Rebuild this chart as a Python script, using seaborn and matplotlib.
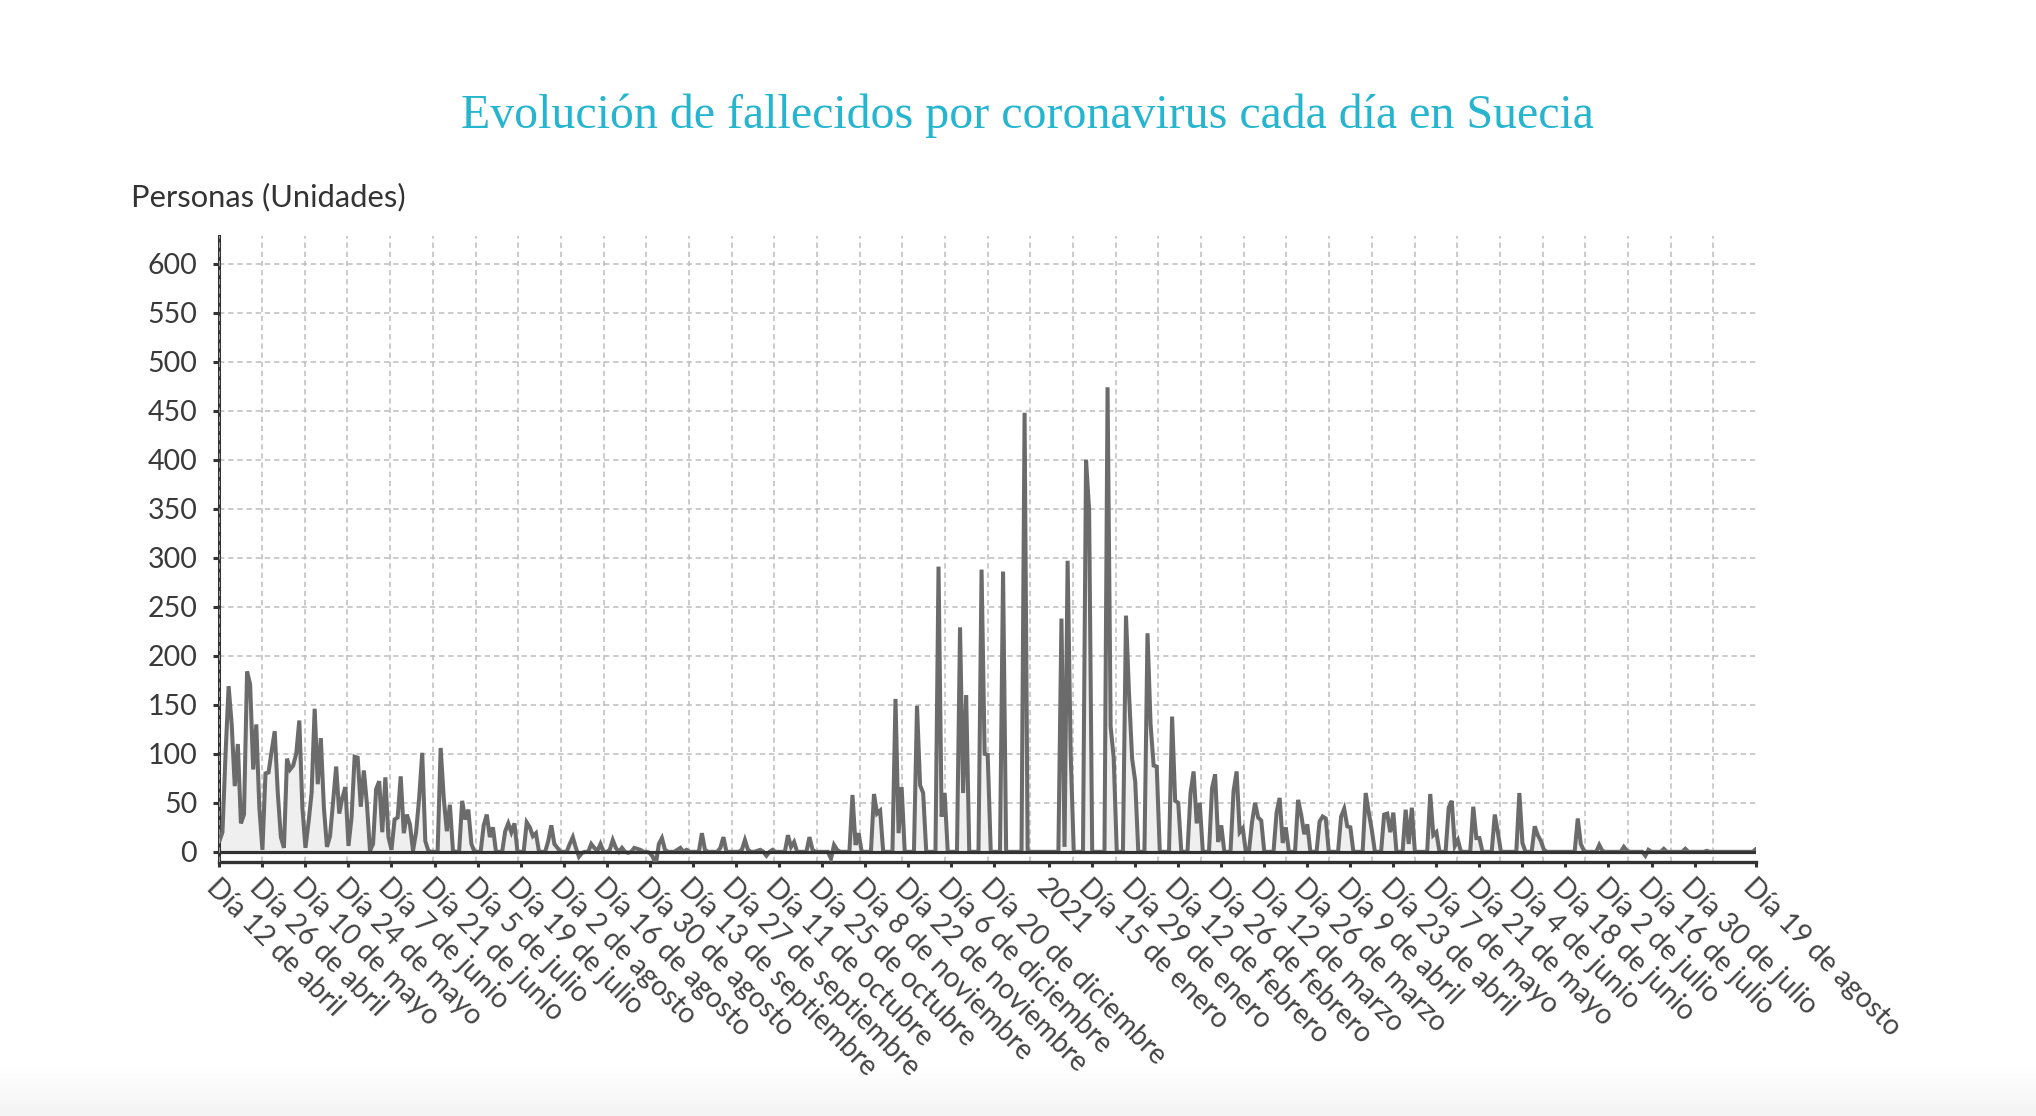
import numpy as np
import pandas as pd
import matplotlib
matplotlib.use("Agg")
import matplotlib.pyplot as plt
import seaborn as sns

# ---------------- data ----------------
titulo = "Evolución de fallecidos por coronavirus cada día en Suecia"
unidad = "Personas (Unidades)"

# daily deaths, one value per day (day 0 = left edge of the axis)
tramo_1 = [11, 20, 100, 169, 130, 67, 110, 29, 38, 184,
           171, 84, 130, 45, 2, 80, 81, 103, 123, 60,
           15, 4, 95, 84, 88, 100, 134, 45, 4, 30,
           60, 146, 69, 116, 45, 5, 16, 52, 87, 39,
           55, 66, 6, 35, 97, 96, 46, 83, 49, 1,
           8, 64, 72, 20, 76, 15, 2, 33, 35, 77,
           19, 38, 28, 1, 20, 55, 101, 11, 1, 0,
           0, 0, 106, 55, 21, 48, 1, 0, 0, 52,
           33, 43, 8, 0, 0, 0, 27, 38, 15, 25,
           0, 0, 0, 21, 29, 20, 29, 0, 0, 0]
tramo_2 = [30, 25, 16, 19, 0, 0, 0, 11, 27, 8,
           4, 0, 0, 0, 8, 15, 4, -5, -1, 0,
           0, 8, 4, 1, 8, 0, 0, 2, 12, 4,
           0, 4, 0, -1, 0, 4, 3, 2, 0, 0,
           -1, -5, -13, 8, 14, 2, 0, 0, 0, 2,
           4, 0, 2, 0, 0, 0, 0, 19, 2, 0,
           0, 0, 0, 4, 15, 0, 0, 0, 0, 0,
           2, 12, 2, 0, 0, 1, 2, 0, -4, 0,
           2, 0, 0, 0, 0, 17, 5, 10, 0, 0,
           0, 0, 15, 2, 0, 0, 0, 0, 0, -7]
tramo_3 = [7, 2, 0, 0, 0, 0, 58, 7, 19, 0,
           0, 0, 0, 59, 39, 42, 0, 0, 0, 0,
           156, 19, 66, 0, 0, 0, 0, 149, 68, 60,
           0, 0, 0, 0, 291, 36, 60, 0, 0, 0,
           0, 229, 60, 160, 0, 0, 0, 0, 288, 100,
           99, 0, 0, 0, 0, 286, 0, 0, 0, 0,
           0, 0, 448, 0, 0, 0, 0, 0, 0, 0,
           0, 0, 0, 0, 238, 5, 297, 100, 0, 0,
           0, 0, 400, 349, 0, 0, 0, 0, 0, 474,
           128, 96, 0, 0, 0, 241, 160, 95, 72, 0]
tramo_4 = [0, 0, 223, 130, 88, 87, 0, 0, 0, 0,
           138, 52, 50, 0, 0, 0, 60, 82, 29, 50,
           0, 0, 0, 65, 79, 10, 27, 0, 0, 0,
           62, 82, 20, 24, 0, 0, 30, 50, 35, 32,
           0, 0, 0, 0, 40, 55, 9, 25, 0, 0,
           0, 53, 38, 18, 28, 0, 0, 0, 31, 36,
           34, 0, 0, 0, 0, 36, 44, 26, 25, 0,
           0, 0, 0, 60, 40, 22, 0, 0, 0, 38,
           39, 20, 40, 0, 0, 0, 43, 8, 45, 0,
           0, 0, 0, 0, 59, 17, 20, 0, 0, 0]
tramo_5 = [45, 52, 6, 12, 0, 0, 0, 0, 46, 14,
           14, 0, 0, 0, 0, 38, 20, 0, 0, 0,
           0, 0, 0, 60, 9, 0, 0, 0, 26, 17,
           11, 2, 0, 0, 0, 0, 0, 0, 0, 0,
           0, 0, 34, 8, 1, 0, 0, 0, 0, 7,
           1, 0, 0, 0, 0, 0, 0, 5, 1, 0,
           0, 0, 0, 0, -4, 2, 0, 0, 0, 0,
           3, 0, 0, 0, 0, 0, 0, 3, 0, 0,
           0, 0, 0, 0, 1, 0, 0, 0, 0, 0,
           0, 0, 0, 0, 0, 0, 0, 0, 0, 0,
           3]

# x-axis tick labels and the day on which each one sits
etiquetas = ["Día 12 de abril", "Día 26 de abril", "Día 10 de mayo", "Día 24 de mayo",
             "Día 7 de junio", "Día 21 de junio", "Día 5 de julio", "Día 19 de julio",
             "Día 2 de agosto", "Día 16 de agosto", "Día 30 de agosto",
             "Día 13 de septiembre", "Día 27 de septiembre", "Día 11 de octubre",
             "Día 25 de octubre", "Día 8 de noviembre", "Día 22 de noviembre",
             "Día 6 de diciembre", "Día 20 de diciembre", "2021",
             "Día 15 de enero", "Día 29 de enero", "Día 12 de febrero",
             "Día 26 de febrero", "Día 12 de marzo", "Día 26 de marzo",
             "Día 9 de abril", "Día 23 de abril", "Día 7 de mayo", "Día 21 de mayo",
             "Día 4 de junio", "Día 18 de junio", "Día 2 de julio", "Día 16 de julio",
             "Día 30 de julio", "Día 19 de agosto"]
dia_etiqueta = [0, 14, 28, 42, 56, 70, 84, 98, 112, 126, 140, 154, 168, 182, 196,
                210, 224, 238, 252, 270, 284, 298, 312, 326, 340, 354, 368, 382,
                396, 410, 424, 438, 452, 466, 480, 500]
marcas_y = [0, 50, 100, 150, 200, 250, 300, 350, 400, 450, 500, 550, 600]

fallecidos = tramo_1 + tramo_2 + tramo_3 + tramo_4 + tramo_5
df = pd.DataFrame({"dia": np.arange(len(fallecidos)), "fallecidos": fallecidos})

# ---------------- style ----------------
sns.set_theme(style="white")
plt.rcParams["font.family"] = ["Lato", "DejaVu Sans"]

W, H = 2036, 1116
fig = plt.figure(figsize=(W / 100, H / 100), dpi=100)
fig.patch.set_facecolor("white")

# faint grey fade at the very bottom of the page
band = fig.add_axes([0, 0, 1, 0.045], zorder=-5)
g = np.linspace(1.0, 0.955, 60)
band.imshow(np.dstack([g, g, g]).reshape(60, 1, 3), aspect="auto",
            extent=[0, 1, 0, 1], interpolation="bilinear")
band.set_axis_off()

x0, x1 = 219.4, 1756.0
ytop, ybot = 236.0, 862.0
ax = fig.add_axes([x0 / W, 1 - ybot / H, (x1 - x0) / W, (ybot - ytop) / H])
ax.set_facecolor("none")

ax.fill_between(df["dia"], df["fallecidos"], 0, color="#efefef", lw=0, zorder=2)
sns.lineplot(data=df, x="dia", y="fallecidos", ax=ax, color="#6b6b6b",
             lw=2.9, zorder=3, solid_joinstyle="miter")
ax.axhline(0, color="#333333", lw=2.3, zorder=4)

ax.set_xlim(0, 500)
ax.set_ylim(-10.4, 628.4)

# grid
ax.set_yticks(marcas_y)
ax.set_yticklabels([str(v) for v in marcas_y])
ax.set_xticks(np.linspace(0, 500, 37), minor=True)
ax.grid(which="major", axis="y", color="#bdbdbd", lw=1.1, ls=(0, (3.5, 2.5)), zorder=1)
ax.grid(which="minor", axis="x", color="#bdbdbd", lw=1.1, ls=(0, (3.5, 2.5)), zorder=1)
ax.grid(which="major", axis="x", visible=False)

ax.set_xticks(dia_etiqueta)
ax.set_xticklabels(etiquetas, rotation=-45, ha="left", va="top",
                   rotation_mode="anchor", fontsize=20.3, color="#444444")

ax.tick_params(axis="y", which="major", length=4, width=2.2, color="#333333",
               pad=12, labelsize=20.5, labelcolor="#3a3a3a", left=True)
ax.tick_params(axis="x", which="major", length=3.5, width=2.2, color="#333333",
               pad=5, bottom=True)
ax.tick_params(axis="x", which="minor", length=0)

for s in ["top", "right"]:
    ax.spines[s].set_visible(False)
ax.spines["left"].set_color("#333333")
ax.spines["left"].set_linewidth(2.2)
ax.spines["bottom"].set_color("#333333")
ax.spines["bottom"].set_linewidth(2.4)
ax.axvline(0, color="#bdbdbd", lw=1.1, ls=(0, (3.5, 2.5)), zorder=6)
ax.set_xlabel("")
ax.set_ylabel("")

fig.text(1027.8 / W, 1 - 128.5 / H, titulo, ha="center", va="baseline",
         fontsize=34.5, color="#26b5cf", family=["Liberation Serif", "DejaVu Serif"])
fig.text(131 / W, 1 - 206.5 / H, unidad, ha="left", va="baseline",
         fontsize=22.2, color="#333333")

fig.savefig("out.png", dpi=100, facecolor="white")
